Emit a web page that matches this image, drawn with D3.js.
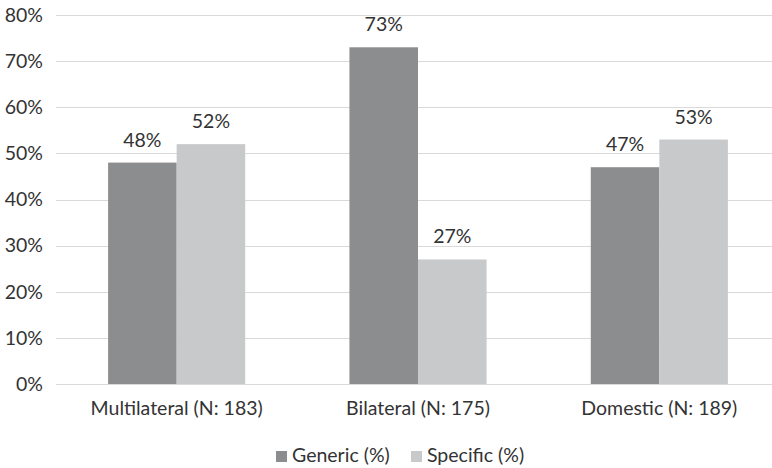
<!DOCTYPE html>
<html>
<head>
<meta charset="utf-8">
<script src="https://cdn.jsdelivr.net/npm/d3@7"></script>
<style>
  html, body { margin: 0; padding: 0; background: #fff; }
  svg { display: block; font-family: Lato, "Open Sans", sans-serif; }
</style>
</head>
<body>
<svg id="chart" width="772" height="468"></svg>
<script>
// Share of generic vs. specific provisions by agreement type
const categories = ["Multilateral (N: 183)", "Bilateral (N: 175)", "Domestic (N: 189)"];
const seriesNames = ["Generic (%)", "Specific (%)"];
const genericValues = [48, 73, 47];
const specificValues = [52, 27, 53];
const yTicks = [0, 10, 20, 30, 40, 50, 60, 70, 80];

const colors = { "Generic (%)": "#8c8d8f", "Specific (%)": "#c8c9cb" };
const textColor = "#333333";
const fontSize = 19.5;

const rows = categories.map((c, i) => ({
  category: c,
  values: [
    { series: seriesNames[0], value: genericValues[i] },
    { series: seriesNames[1], value: specificValues[i] }
  ]
}));

const svg = d3.select("#chart");
const margin = { left: 56, right: -8, top: 15, bottom: 84 };
const W = 772, H = 468;

const x = d3.scaleBand()
  .domain(categories)
  .range([margin.left, W - margin.right])
  .paddingInner(0)
  .paddingOuter(0);

const inner = d3.scaleBand()
  .domain(seriesNames)
  .range([0, x.bandwidth()])
  .paddingOuter(0.76)
  .paddingInner(0);

const y = d3.scaleLinear()
  .domain([0, 80])
  .range([H - margin.bottom, margin.top]);

// horizontal gridlines
svg.append("g")
  .selectAll("line")
  .data(yTicks)
  .join("line")
  .attr("x1", margin.left)
  .attr("x2", W)
  .attr("y1", d => Math.round(y(d)) + 0.5)
  .attr("y2", d => Math.round(y(d)) + 0.5)
  .attr("stroke", "#d9d9d9")
  .attr("stroke-width", 1);

// y tick labels
svg.append("g")
  .selectAll("text")
  .data(yTicks)
  .join("text")
  .attr("x", 43)
  .attr("y", d => y(d))
  .attr("dy", "0.35em")
  .attr("text-anchor", "end")
  .attr("font-size", fontSize)
  .attr("fill", textColor)
  .text(d => d + "%");

// bars
const groups = svg.append("g")
  .selectAll("g")
  .data(rows)
  .join("g")
  .attr("transform", d => `translate(${x(d.category)},0)`);

groups.selectAll("rect")
  .data(d => d.values)
  .join("rect")
  .attr("x", d => inner(d.series))
  .attr("y", d => y(d.value))
  .attr("width", inner.bandwidth())
  .attr("height", d => y(0) - y(d.value))
  .attr("fill", d => colors[d.series]);

// value labels
groups.selectAll("text")
  .data(d => d.values)
  .join("text")
  .attr("x", d => inner(d.series) + inner.bandwidth() / 2)
  .attr("y", d => y(d.value) - 16)
  .attr("text-anchor", "middle")
  .attr("font-size", fontSize)
  .attr("fill", textColor)
  .text(d => d.value + "%");

// category labels
svg.append("g")
  .selectAll("text")
  .data(categories)
  .join("text")
  .attr("x", d => x(d) + x.bandwidth() / 2)
  .attr("y", 415)
  .attr("text-anchor", "middle")
  .attr("font-size", fontSize)
  .attr("fill", textColor)
  .text(d => d);

// legend
const legendItems = [
  { name: seriesNames[0], x: 276 },
  { name: seriesNames[1], x: 411 }
];
const legend = svg.append("g")
  .selectAll("g")
  .data(legendItems)
  .join("g")
  .attr("transform", d => `translate(${d.x},451)`);
legend.append("rect")
  .attr("width", 11)
  .attr("height", 11)
  .attr("fill", d => colors[d.name]);
legend.append("text")
  .attr("x", 16)
  .attr("y", 11)
  .attr("font-size", fontSize)
  .attr("fill", textColor)
  .text(d => d.name);
</script>
</body>
</html>
